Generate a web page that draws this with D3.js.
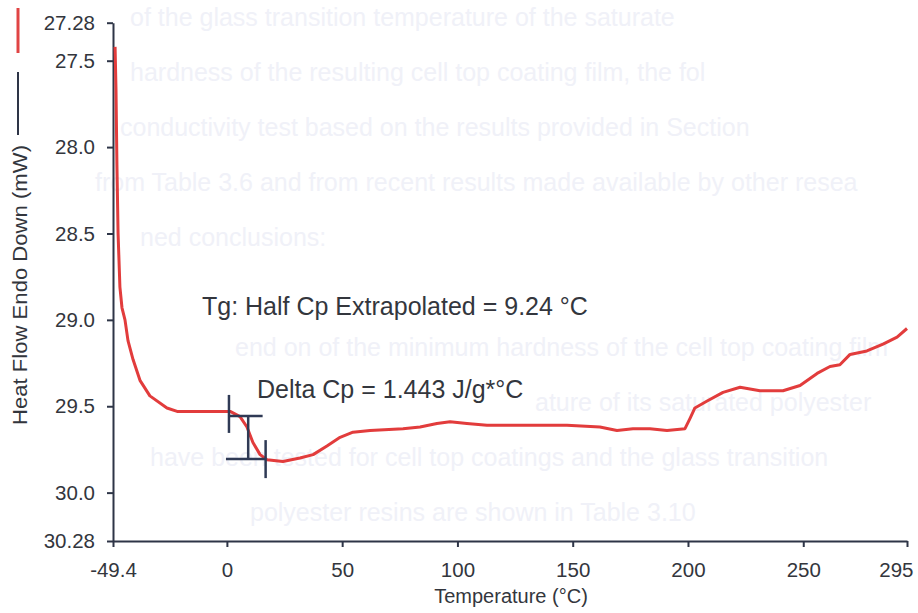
<!DOCTYPE html>
<html>
<head>
<meta charset="utf-8">
<script src="https://cdn.jsdelivr.net/npm/d3@7"></script>
<style>
  html, body { margin: 0; padding: 0; background: #fff; }
  svg { display: block; }
</style>
</head>
<body>
<svg id="chart" width="918" height="613"></svg>
<script>
// DSC heat flow trace (Temperature °C vs Heat Flow mW, endo down)
const temperature = [-48.5, -48.1, -47.7, -47.2, -46.4, -45.5, -44.2, -42.9, -40.7, -37.7, -33.4, -26.0, -21.6,
  -11.7, -4.3, 1.4, 5.7, 8.7, 11.3, 14.4, 17.4, 24.3, 31.7, 37.4, 43.4, 49.1, 54.7, 62.1, 76.4, 83.8, 91.1,
  96.8, 104.1, 112.8, 132.8, 147.5, 161.8, 169.2, 176.1, 183.5, 190.9, 198.7, 200.9, 203.0, 208.3, 215.2,
  222.6, 231.2, 241.2, 248.6, 256.0, 261.6, 265.9, 270.3, 277.6, 284.6, 290.7, 295.0];
const heatFlow = [27.42, 27.67, 28.10, 28.50, 28.81, 28.93, 29.00, 29.12, 29.23, 29.35, 29.44, 29.51, 29.53,
  29.53, 29.53, 29.53, 29.56, 29.62, 29.71, 29.78, 29.81, 29.82, 29.80, 29.78, 29.73, 29.68, 29.65, 29.64, 29.63,
  29.62, 29.60, 29.59, 29.60, 29.61, 29.61, 29.61, 29.62, 29.64, 29.63, 29.63, 29.64, 29.63, 29.57, 29.51,
  29.47, 29.42, 29.39, 29.41, 29.41, 29.38, 29.31, 29.27, 29.26, 29.20, 29.18, 29.14, 29.10, 29.05];

// axis ticks
const xTicks = [-49.4, 0, 50, 100, 150, 200, 250, 295];
const xTickLabels = ["-49.4", "0", "50", "100", "150", "200", "250", "295"];
const yTicks = [27.28, 27.5, 28.0, 28.5, 29.0, 29.5, 30.0, 30.28];
const yTickLabels = ["27.28", "27.5", "28.0", "28.5", "29.0", "29.5", "30.0", "30.28"];

// glass transition construction: onset / end baselines and the midpoint
const tgOnset = 0.9, tgEnd = 16.8, tgMid = 9.24;
const baseUpper = 29.556, baseLower = 29.806;
const tgLabel = "Tg: Half Cp Extrapolated = 9.24 °C";
const deltaCpLabel = "Delta Cp = 1.443 J/g*°C";

// faint print-through lines from the page behind the figure
const pageLines = [
  { x: 130, y: 26, t: "of the glass transition temperature of the saturate" },
  { x: 130, y: 81, t: "hardness of the resulting cell top coating film, the fol" },
  { x: 120, y: 136, t: "conductivity test based on the results provided in Section" },
  { x: 95, y: 191, t: "from Table 3.6 and from recent results made available by other resea" },
  { x: 140, y: 246, t: "ned conclusions:" },
  { x: 235, y: 356, t: "end on of the minimum hardness of the cell top coating film" },
  { x: 535, y: 411, t: "ature of its saturated polyester" },
  { x: 150, y: 466, t: "have been tested for cell top coatings and the glass transition" },
  { x: 250, y: 521, t: "polyester resins are shown in Table 3.10" }
];

const svg = d3.select("#chart");
const W = 918, H = 613;
svg.append("rect").attr("width", W).attr("height", H).attr("fill", "#fff");

svg.append("g").selectAll("text").data(pageLines).join("text")
  .attr("x", d => d.x).attr("y", d => d.y)
  .attr("font-family", "Liberation Sans, Arial, sans-serif")
  .attr("font-size", 25)
  .attr("fill", "#f0f1f8")
  .text(d => d.t);

const x = d3.scaleLinear().domain([-49.4, 295]).range([113, 907]);
const y = d3.scaleLinear().domain([27.28, 30.28]).range([22.7, 541]);

const axisColor = "#2e3547";
const labelColor = "#33363d";
const font = "Liberation Sans, Arial, sans-serif";

// y axis
const yAxis = svg.append("g").attr("transform", `translate(${x.range()[0]},0)`)
  .call(d3.axisLeft(y).tickValues(yTicks).tickFormat((d, i) => yTickLabels[i])
    .tickSizeInner(6).tickSizeOuter(0).tickPadding(12));
// x axis
const xAxis = svg.append("g").attr("transform", `translate(0,${y.range()[1]})`)
  .call(d3.axisBottom(x).tickValues(xTicks).tickFormat((d, i) => xTickLabels[i])
    .tickSizeInner(6).tickSizeOuter(0).tickPadding(15));

[yAxis, xAxis].forEach(g => {
  g.select(".domain").attr("stroke", axisColor).attr("stroke-width", 2);
  g.selectAll(".tick line").attr("stroke", axisColor).attr("stroke-width", 2);
  g.selectAll(".tick text").attr("fill", labelColor)
    .attr("font-family", font).attr("font-size", 20.5);
});
// keep the last temperature label inside the frame
xAxis.selectAll(".tick text").filter((d, i) => i === xTicks.length - 1)
  .attr("text-anchor", "end").attr("x", 6);

// axis titles
svg.append("text")
  .attr("x", 511).attr("y", 603)
  .attr("text-anchor", "middle")
  .attr("font-family", font).attr("font-size", 20).attr("fill", labelColor)
  .text("Temperature (°C)");

svg.append("text")
  .attr("transform", "translate(27,285) rotate(-90)")
  .attr("text-anchor", "middle")
  .attr("font-family", font).attr("font-size", 20).attr("fill", labelColor)
  .attr("textLength", 280).attr("lengthAdjust", "spacingAndGlyphs")
  .text("Heat Flow Endo Down (mW)");

// legend swatches beside the axis title
svg.append("line").attr("x1", 18).attr("x2", 18).attr("y1", 8).attr("y2", 53)
  .attr("stroke", "#e04444").attr("stroke-width", 3);
svg.append("line").attr("x1", 18).attr("x2", 18).attr("y1", 72).attr("y2", 135)
  .attr("stroke", axisColor).attr("stroke-width", 2);

// heat flow trace
const pts = temperature.map((t, i) => [t, heatFlow[i]]);
svg.append("path")
  .datum(pts)
  .attr("fill", "none")
  .attr("stroke", "#e23c3c")
  .attr("stroke-width", 3)
  .attr("stroke-linejoin", "round")
  .attr("d", d3.line().x(d => x(d[0])).y(d => y(d[1])));

// Tg construction marks
const mk = svg.append("g").attr("stroke", "#2f3a55").attr("stroke-width", 2.5);
mk.append("line").attr("x1", x(tgOnset)).attr("x2", x(tgOnset))
  .attr("y1", y(baseUpper) - 21).attr("y2", y(baseUpper) + 17);
mk.append("line").attr("x1", x(tgOnset)).attr("x2", x(tgEnd) - 3)
  .attr("y1", y(baseUpper)).attr("y2", y(baseUpper));
mk.append("line").attr("x1", x(tgOnset) - 3).attr("x2", x(tgEnd))
  .attr("y1", y(baseLower)).attr("y2", y(baseLower));
mk.append("line").attr("x1", x(tgMid)).attr("x2", x(tgMid))
  .attr("y1", y(baseUpper)).attr("y2", y(baseLower));
mk.append("line").attr("x1", x(tgEnd)).attr("x2", x(tgEnd))
  .attr("y1", y(baseLower) - 19).attr("y2", y(baseLower) + 19);

// annotations
svg.append("text").attr("x", 202).attr("y", 315)
  .attr("font-family", font).attr("font-size", 25).attr("fill", labelColor)
  .text(tgLabel);
svg.append("text").attr("x", 257).attr("y", 398)
  .attr("font-family", font).attr("font-size", 25).attr("fill", labelColor)
  .text(deltaCpLabel);
</script>
</body>
</html>
